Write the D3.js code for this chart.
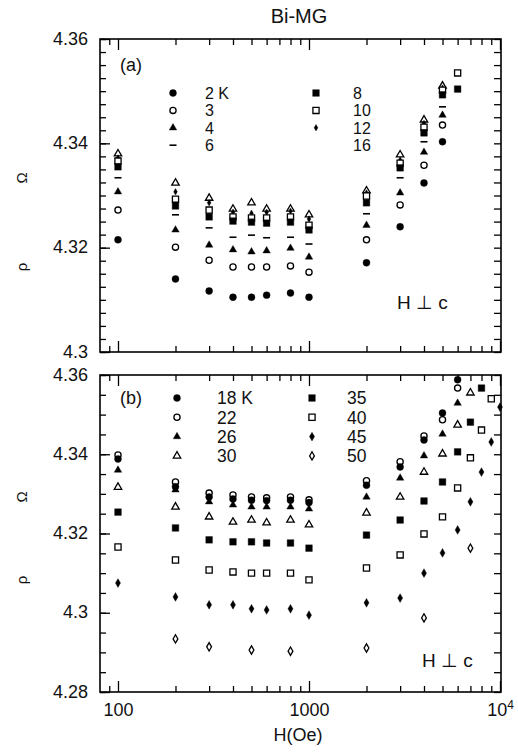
<!DOCTYPE html>
<html><head><meta charset="utf-8">
<script src="https://cdn.jsdelivr.net/npm/d3@7"></script>
<style>
body{margin:0;background:#fff}
svg{display:block}
text{font-family:"Liberation Sans",Arial,Helvetica,sans-serif;fill:#111}
</style>
</head><body>
<svg id="c" width="518" height="752"></svg>
<script>
// ---------- DATA ----------
// Panel (a): fields (Oe)
const fieldA = [100, 200, 300, 400, 500, 600, 800, 1000, 2000, 3000, 4000, 5000, 6000];
const rhoA_2K  = [4.3215, 4.3140, 4.3117, 4.3105, 4.3105, 4.3109, 4.3113, 4.3105, 4.3171, 4.3240, 4.3324, 4.3403, null];
const rhoA_3K  = [4.3272, 4.3201, 4.3176, 4.3163, 4.3163, 4.3163, 4.3165, 4.3153, 4.3215, 4.3282, 4.3358, 4.3435, null];
const rhoA_4K  = [4.3307, 4.3234, 4.3205, 4.3196, 4.3192, 4.3194, 4.3199, 4.3182, 4.3243, 4.3305, 4.3383, 4.3454, null];
const rhoA_6K  = [4.3334, 4.3263, 4.3238, 4.3220, 4.3224, 4.3219, 4.3220, 4.3207, 4.3265, 4.3334, 4.3403, 4.3470, null];
const rhoA_8K  = [4.3355, 4.3280, 4.3259, 4.3251, 4.3249, 4.3247, 4.3249, 4.3234, 4.3286, 4.3353, 4.3420, 4.3493, 4.3504];
const rhoA_10K = [4.3366, 4.3293, 4.3272, 4.3259, 4.3257, 4.3257, 4.3259, 4.3243, 4.3299, 4.3362, 4.3431, 4.3502, 4.3535];
const rhoA_12K = [4.3372, 4.3307, 4.3286, 4.3268, 4.3266, 4.3268, 4.3270, 4.3255, 4.3305, 4.3368, 4.3438, 4.3506, null];
const rhoA_16K = [4.3380, 4.3324, 4.3295, 4.3274, 4.3286, 4.3274, 4.3274, 4.3263, 4.3309, 4.3378, 4.3445, 4.3510, null];

// Panel (b): fields (Oe)
const fieldB = [100, 200, 300, 400, 500, 600, 800, 1000, 2000, 3000, 4000, 5000, 6000, 7000, 8000, 9000, 10000];
const rhoB_18K = [4.3388, 4.3318, 4.3292, 4.3287, 4.3284, 4.3283, 4.3284, 4.3278, 4.3322, 4.3368, 4.3436, 4.3504, 4.3588, null, null, null, null];
const rhoB_22K = [4.3398, 4.3330, 4.3302, 4.3297, 4.3292, 4.3290, 4.3292, 4.3285, 4.3333, 4.3381, 4.3446, 4.3487, 4.3567, null, null, null, null];
const rhoB_26K = [4.3360, 4.3310, 4.3280, 4.3272, 4.3267, 4.3267, 4.3267, 4.3262, 4.3292, 4.3340, 4.3396, 4.3451, 4.3529, null, null, null, null];
const rhoB_30K = [4.3317, 4.3267, 4.3242, 4.3229, 4.3234, 4.3227, 4.3234, 4.3222, 4.3252, 4.3292, 4.3355, 4.3401, 4.3474, 4.3555, null, null, null];
const rhoB_35K = [4.3254, 4.3214, 4.3184, 4.3179, 4.3179, 4.3176, 4.3176, 4.3163, 4.3196, 4.3234, 4.3282, 4.3330, 4.3406, 4.3481, 4.3567, null, null];
const rhoB_40K = [4.3166, 4.3133, 4.3108, 4.3103, 4.3100, 4.3100, 4.3100, 4.3083, 4.3113, 4.3146, 4.3199, 4.3242, 4.3315, 4.3391, 4.3461, 4.3540, null];
const rhoB_45K = [4.3075, 4.3040, 4.3020, 4.3020, 4.3010, 4.3007, 4.3010, 4.2994, 4.3025, 4.3037, 4.3100, 4.3151, 4.3209, 4.3280, 4.3355, 4.3431, 4.3519];
const rhoB_50K = [null, 4.2934, 4.2914, null, 4.2906, null, 4.2903, null, 4.2911, null, 4.2987, null, null, 4.3163, null, null, null];

// Legends / labels
const legendA = ["2 K", "3", "4", "6", "8", "10", "12", "16"];
const legendB = ["18 K", "22", "26", "30", "35", "40", "45", "50"];
const yTicksA = [4.30, 4.32, 4.34, 4.36];
const yTicksB = [4.28, 4.30, 4.32, 4.34, 4.36];
const xMajor = [100, 1000, 10000];
const xMinor = [90, 200, 300, 400, 500, 600, 700, 800, 900, 2000, 3000, 4000, 5000, 6000, 7000, 8000, 9000];

// ---------- STYLE ----------
const SYM = {
  fcircle: {shape: d3.symbolCircle, size: 38, fill: true},
  ocircle: {shape: d3.symbolCircle, size: 30, fill: false},
  ftri:    {shape: d3.symbolTriangle, size: 24, fill: true},
  otri:    {shape: d3.symbolTriangle, size: 24, fill: false},
  fsq:     {shape: d3.symbolSquare, size: 44, fill: true},
  osq:     {shape: d3.symbolSquare, size: 38, fill: false},
  sdiam:   {shape: d3.symbolDiamond, size: 12, fill: true},
  fdiam:   {shape: d3.symbolDiamond, size: 22, fill: true},
  odiam:   {shape: d3.symbolDiamond, size: 20, fill: false},
  dash:    {dash: true}
};

const seriesA = [
  {vals: rhoA_16K, sym: "otri"},
  {vals: rhoA_12K, sym: "sdiam"},
  {vals: rhoA_10K, sym: "osq"},
  {vals: rhoA_8K,  sym: "fsq"},
  {vals: rhoA_6K,  sym: "dash"},
  {vals: rhoA_4K,  sym: "ftri"},
  {vals: rhoA_3K,  sym: "ocircle"},
  {vals: rhoA_2K,  sym: "fcircle"}
];
const legSymA = ["fcircle","ocircle","ftri","dash","fsq","osq","sdiam",null];
const seriesB = [
  {vals: rhoB_22K, sym: "ocircle"},
  {vals: rhoB_18K, sym: "fcircle"},
  {vals: rhoB_26K, sym: "ftri"},
  {vals: rhoB_30K, sym: "otri"},
  {vals: rhoB_35K, sym: "fsq"},
  {vals: rhoB_40K, sym: "osq"},
  {vals: rhoB_45K, sym: "fdiam"},
  {vals: rhoB_50K, sym: "odiam"}
];
const legSymB = ["fcircle","ocircle","ftri","otri","fsq","osq","fdiam","odiam"];

const svg = d3.select("#c");
const X0 = 100, X1 = 501;
const x = d3.scaleLog().domain([80.5, 10121]).range([X0, X1]);

function drawSym(g, type, cx, cy) {
  const s = SYM[type];
  if (s.dash) {
    g.append("line").attr("x1", cx - 3.5).attr("x2", cx + 3.5)
      .attr("y1", cy).attr("y2", cy).attr("stroke", "#000").attr("stroke-width", 1.6);
    return;
  }
  g.append("path")
    .attr("d", d3.symbol().type(s.shape).size(s.size)())
    .attr("transform", `translate(${cx},${cy})`)
    .attr("fill", s.fill ? "#000" : "#fff")
    .attr("stroke", "#000")
    .attr("stroke-width", s.fill ? 0.4 : 1.3);
}

function fmtY(d) { return String(+d.toFixed(2)); }

function panel(cfg) {
  const y = d3.scaleLinear().domain(cfg.domain).range([cfg.bottom, cfg.top]);
  const g = svg.append("g");
  const H = cfg.bottom - cfg.top, W = X1 - X0;
  const minorY = d3.range(cfg.domain[0], cfg.domain[1] + 1e-9, cfg.step);

  // x ticks (bottom / top), inward
  const xb = g.append("g").attr("transform", `translate(0,${cfg.bottom})`);
  xb.append("g").call(d3.axisBottom(x).tickValues(xMinor).tickSize(-6).tickSizeOuter(0).tickFormat(""));
  const xbm = xb.append("g").call(d3.axisBottom(x).tickValues(xMajor).tickSize(-11).tickSizeOuter(0)
      .tickPadding(11).tickFormat(d => cfg.xlabels ? (d === 10000 ? "10" : String(d)) : ""));
  const xt = g.append("g").attr("transform", `translate(0,${cfg.top})`);
  xt.append("g").call(d3.axisTop(x).tickValues(xMinor).tickSize(-6).tickSizeOuter(0).tickFormat(""));
  xt.append("g").call(d3.axisTop(x).tickValues(xMajor).tickSize(-11).tickSizeOuter(0).tickFormat(""));

  // y ticks (left/right), inward
  const yl = g.append("g").attr("transform", `translate(${X0},0)`);
  yl.append("g").call(d3.axisLeft(y).tickValues(minorY).tickSize(-6).tickSizeOuter(0).tickFormat(""));
  const ylm = yl.append("g").call(d3.axisLeft(y).tickValues(cfg.yticks).tickSize(-10).tickSizeOuter(0)
      .tickPadding(12).tickFormat(fmtY));
  const yr = g.append("g").attr("transform", `translate(${X1},0)`);
  yr.append("g").call(d3.axisRight(y).tickValues(minorY).tickSize(-7).tickSizeOuter(0).tickFormat(""));

  g.selectAll(".domain").remove();
  g.selectAll(".tick line").attr("stroke", "#000").attr("stroke-width", 1.3);
  g.selectAll(".tick text").attr("font-size", 18).attr("font-family", "Liberation Sans, Arial, sans-serif").attr("fill", "#111");
  ylm.selectAll(".tick text").attr("dy", "0.28em");
  if (cfg.xlabels) {
    xbm.selectAll(".tick text").each(function(d) {
      if (d === 10000) {
        d3.select(this).append("tspan").attr("dy", "-0.55em").attr("font-size", 12).text("4");
      }
    });
  }

  // frame
  g.append("rect").attr("x", X0).attr("y", cfg.top).attr("width", W).attr("height", H)
    .attr("fill", "none").attr("stroke", "#000").attr("stroke-width", 1.6);

  // data
  const pts = g.append("g");
  cfg.series.forEach(s => {
    s.vals.forEach((v, i) => {
      if (v == null) return;
      drawSym(pts, s.sym, x(cfg.fields[i]), y(v));
    });
  });

  // legend
  const lg = g.append("g");
  cfg.legendText.forEach((t, i) => {
    const col = i < 4 ? 0 : 1, row = i % 4;
    const ly = cfg.legY0 + row * cfg.legDY;
    const sx = cfg.legSymX[col], tx = cfg.legTxtX[col];
    if (cfg.legSyms[i]) drawSym(lg, cfg.legSyms[i], sx, ly);
    lg.append("text").attr("x", tx).attr("y", ly).attr("dy", "0.36em")
      .attr("font-size", cfg.legFont).text(t);
  });

  // panel label and orientation
  g.append("text").attr("x", 120).attr("y", cfg.top + cfg.tagDY).attr("dy", "0.36em")
    .attr("font-size", 18).text(cfg.tag);
  g.append("text").attr("x", cfg.hcX).attr("y", cfg.hcY).attr("dy", "0.36em")
    .attr("font-size", 19).text("H \u22A5 c");

  // y label glyphs (rotated)
  [["\u03A9", cfg.omegaY], ["\u03C1", cfg.rhoY]].forEach(([ch, yy]) => {
    g.append("text").attr("transform", `translate(22,${yy}) rotate(-90)`)
      .attr("text-anchor", "middle").attr("dy", "0.35em").attr("font-size", 15).text(ch);
  });
}

panel({
  domain: [4.30, 4.36], top: 39, bottom: 352, step: 0.0025, yticks: yTicksA,
  fields: fieldA, series: seriesA, xlabels: false,
  legendText: legendA, legSyms: legSymA, legY0: 93, legDY: 17.4, legFont: 16,
  legSymX: [173, 316], legTxtX: [205, 353],
  tag: "(a)", tagDY: 26, hcX: 397, hcY: 302, omegaY: 178, rhoY: 267
});

panel({
  domain: [4.28, 4.36], top: 375, bottom: 692, step: 0.005, yticks: yTicksB,
  fields: fieldB, series: seriesB, xlabels: true,
  legendText: legendB, legSyms: legSymB, legY0: 398, legDY: 19.3, legFont: 17.5,
  legSymX: [177, 312], legTxtX: [217, 347],
  tag: "(b)", tagDY: 23, hcX: 422, hcY: 660, omegaY: 497, rhoY: 580
});

// title and x label
svg.append("text").attr("x", 299).attr("y", 16).attr("dy", "0.36em")
  .attr("text-anchor", "middle").attr("font-size", 20).text("Bi-MG");
svg.append("text").attr("x", 298).attr("y", 735).attr("dy", "0.36em")
  .attr("text-anchor", "middle").attr("font-size", 18).text("H(Oe)");
</script>
</body></html>
